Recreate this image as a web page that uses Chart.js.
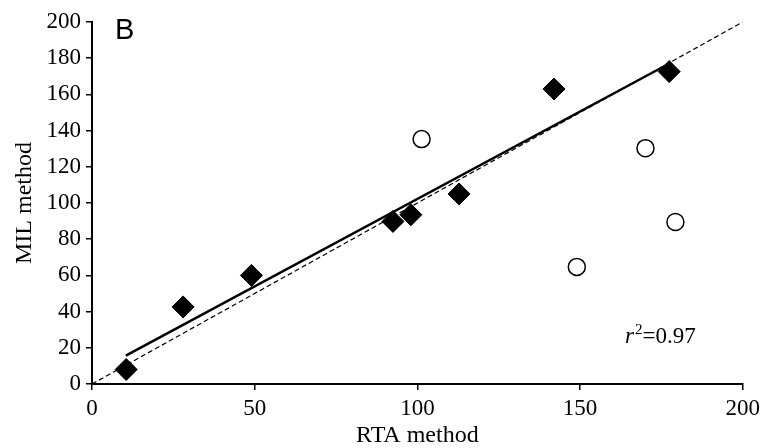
<!DOCTYPE html>
<html>
<head>
<meta charset="utf-8">
<script src="https://cdn.jsdelivr.net/npm/chart.js@4/dist/chart.umd.min.js"></script>
<style>
  html, body { margin: 0; padding: 0; background: #fff; }
  #wrap { width: 765px; height: 448px; }
</style>
</head>
<body>
<div id="wrap"><canvas id="chart" width="765" height="448"></canvas></div>
<script>
// filled diamonds (RTA, MIL)
const rtaFilled = [10.5, 28, 49, 92.5, 98, 112.8, 142, 177.4];
const milFilled = [8, 42.6, 60, 89.8, 93.5, 105, 163, 172.6];
// open circles
const rtaOpen = [101.3, 149, 170.1, 179.3];
const milOpen = [135.3, 64.7, 130.3, 89.5];
// regression line ends and identity line ends
const fitX = [10.4, 177.6];
const fitY = [15.7, 177.2];
const idX = [0, 200];
const idY = [0, 200];
const xTicks = [0, 50, 100, 150, 200];
const yTicks = [0, 20, 40, 60, 80, 100, 120, 140, 160, 180, 200];
const r2Text = '0.97';

const pts = (xs, ys) => xs.map((x, i) => ({ x: x, y: ys[i] }));

// panel letter and r² label
const labelsPlugin = {
  id: 'labels',
  afterDraw(chart) {
    const ctx = chart.ctx;
    ctx.save();
    ctx.fillStyle = '#000';
    ctx.textBaseline = 'alphabetic';
    ctx.font = '29px "Liberation Sans"';
    ctx.fillText('B', 115, 39);
    let x = 625, y = 343;
    ctx.font = 'italic 23px "Liberation Serif"';
    ctx.fillText('r', x, y);
    x += ctx.measureText('r').width + 1;
    ctx.font = '15px "Liberation Serif"';
    ctx.fillText('2', x, y - 9);
    x += ctx.measureText('2').width;
    ctx.font = '23px "Liberation Serif"';
    ctx.fillText('=' + r2Text, x, y);
    ctx.restore();
  }
};

const serif = '"Liberation Serif", "Times New Roman", serif';

new Chart(document.getElementById('chart'), {
  type: 'scatter',
  data: {
    datasets: [
      {
        type: 'line',
        data: pts(idX, idY),
        borderColor: '#000',
        borderWidth: 1.2,
        borderDash: [5, 3],
        pointRadius: 0,
        fill: false
      },
      {
        type: 'line',
        data: pts(fitX, fitY),
        borderColor: '#000',
        borderWidth: 2.5,
        pointRadius: 0,
        fill: false
      },
      {
        data: pts(rtaFilled, milFilled),
        pointStyle: 'rectRot',
        pointRadius: 11,
        backgroundColor: '#000',
        borderColor: '#000',
        borderWidth: 1,
        clip: false
      },
      {
        data: pts(rtaOpen, milOpen),
        pointStyle: 'circle',
        pointRadius: 8.5,
        backgroundColor: '#fff',
        borderColor: '#000',
        borderWidth: 1.5,
        clip: false
      }
    ]
  },
  options: {
    responsive: false,
    animation: false,
    events: [],
    layout: { padding: { top: 22, right: 22, left: 0, bottom: 0 } },
    plugins: { legend: { display: false }, tooltip: { enabled: false } },
    scales: {
      x: {
        type: 'linear',
        min: 0, max: 200,
        afterBuildTicks: s => { s.ticks = xTicks.map(v => ({ value: v })); },
        afterFit: s => { s.height = 64; },
        border: { display: true, color: '#000', width: 2 },
        grid: { drawOnChartArea: false, drawTicks: true, tickLength: 6, color: '#000', lineWidth: 1.5 },
        ticks: { color: '#000', font: { family: serif, size: 23 }, padding: 5, maxRotation: 0 },
        title: { display: true, text: 'RTA method', color: '#000', font: { family: serif, size: 24, lineHeight: 1 }, padding: { top: 0, bottom: 0 } }
      },
      y: {
        type: 'linear',
        min: 0, max: 200,
        afterBuildTicks: s => { s.ticks = yTicks.map(v => ({ value: v })); },
        afterFit: s => { s.width = 92; },
        border: { display: true, color: '#000', width: 2 },
        grid: { drawOnChartArea: false, drawTicks: true, tickLength: 6, color: '#000', lineWidth: 1.5 },
        ticks: { color: '#000', font: { family: serif, size: 23 }, padding: 5 },
        title: { display: true, text: 'MIL method', color: '#000', font: { family: serif, size: 24, lineHeight: 1 }, padding: { top: 13, bottom: 0 } }
      }
    }
  },
  plugins: [labelsPlugin]
});
</script>
</body>
</html>
